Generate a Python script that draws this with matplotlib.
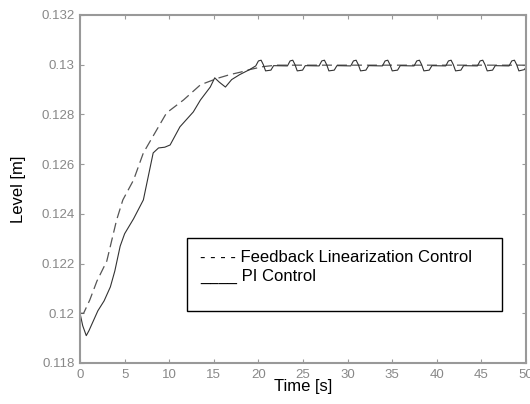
import matplotlib
matplotlib.use("Agg")
import matplotlib.pyplot as plt
from matplotlib.patches import Rectangle

# Feedback linearization response (dashed)
fl_t = [0, 0.4, 1.1, 1.9, 3.0, 4.1, 4.8, 6.0, 7.1, 8.6, 9.7, 11.6, 13.5,
        15.4, 16.8, 18.0, 19.0, 20.5, 22.0, 50.0]
fl_lvl = [0.1200, 0.1200, 0.12054, 0.1213, 0.1221, 0.12375, 0.12456, 0.12536,
          0.12645, 0.12738, 0.12806, 0.12858, 0.12919, 0.12945, 0.12960,
          0.12970, 0.12980, 0.12992, 0.12998, 0.12998]

# PI response: rise part
pi_rise_t = [0, 0.3, 0.7, 1.0, 1.5, 2.0, 2.7, 3.4, 3.9, 4.5, 5.0, 6.0, 7.1,
             8.2, 8.8, 9.5, 10.1, 11.2, 12.7, 13.5, 14.6, 15.1, 15.6, 16.3,
             17.0, 17.9, 19.0]
pi_rise_lvl = [0.1200, 0.1195, 0.1191, 0.1193, 0.1197, 0.1201, 0.1205,
               0.12106, 0.1217, 0.1227, 0.1232, 0.1238, 0.12456, 0.12645,
               0.12665, 0.12668, 0.12677, 0.1275, 0.1281, 0.12858, 0.1291,
               0.12947, 0.1293, 0.1291, 0.1294, 0.1296, 0.1298]

# PI response: steady-state ripple
pi_ripple_t = [19.7, 20.0, 20.3, 20.55, 20.8, 21.4, 21.7,
               23.25, 23.55, 23.85, 24.1, 24.35, 24.95, 25.25,
               26.8, 27.1, 27.4, 27.65, 27.9, 28.5, 28.8,
               30.35, 30.65, 30.95, 31.2, 31.45, 32.05, 32.35,
               33.9, 34.2, 34.5, 34.75, 35.0, 35.6, 35.9,
               37.45, 37.75, 38.05, 38.3, 38.55, 39.15, 39.45,
               41.0, 41.3, 41.6, 41.85, 42.1, 42.7, 43.0,
               44.55, 44.85, 45.15, 45.4, 45.65, 46.25, 46.55,
               48.1, 48.4, 48.7, 48.95, 49.2, 49.8, 50.0]
pi_ripple_lvl = [0.12995, 0.13015, 0.13018, 0.13000, 0.12975, 0.12978, 0.12996,
                 0.12995, 0.13015, 0.13018, 0.13000, 0.12975, 0.12978, 0.12996,
                 0.12995, 0.13015, 0.13018, 0.13000, 0.12975, 0.12978, 0.12996,
                 0.12995, 0.13015, 0.13018, 0.13000, 0.12975, 0.12978, 0.12996,
                 0.12995, 0.13015, 0.13018, 0.13000, 0.12975, 0.12978, 0.12996,
                 0.12995, 0.13015, 0.13018, 0.13000, 0.12975, 0.12978, 0.12996,
                 0.12995, 0.13015, 0.13018, 0.13000, 0.12975, 0.12978, 0.12996,
                 0.12995, 0.13015, 0.13018, 0.13000, 0.12975, 0.12978, 0.12996,
                 0.12995, 0.13015, 0.13018, 0.13000, 0.12975, 0.12980, 0.12990]

x_ticks = [0, 5, 10, 15, 20, 25, 30, 35, 40, 45, 50]
y_ticks = [0.118, 0.12, 0.122, 0.124, 0.126, 0.128, 0.13, 0.132]
y_tick_labels = ["0.118", "0.12", "0.122", "0.124", "0.126", "0.128", "0.13", "0.132"]

plt.rcParams["font.family"] = ["Liberation Sans", "DejaVu Sans"]

fig = plt.figure(figsize=(5.30, 4.04), dpi=100)
ax = fig.add_axes([0.151, 0.1015, 0.8415, 0.8615])

ax.plot(fl_t, fl_lvl, color="#555555", lw=0.9, ls=(0, (8, 4)))
ax.plot(pi_rise_t + pi_ripple_t, pi_rise_lvl + pi_ripple_lvl,
        color="#333333", lw=0.8)

ax.set_xlim(0, 50)
ax.set_ylim(0.118, 0.132)
ax.set_xticks(x_ticks)
ax.set_yticks(y_ticks)
ax.set_yticklabels(y_tick_labels)
ax.tick_params(direction="in", length=3, width=0.8, colors="#999999",
               labelcolor="#888888", labelsize=9.5, top=True, right=True, pad=4)
for s in ax.spines.values():
    s.set_color("#999999")
    s.set_linewidth(1.5)

ax.set_xlabel("Time [s]", fontsize=12, labelpad=-1)
ax.set_ylabel("Level [m]", fontsize=12, labelpad=11)

# legend drawn as a text box, as in the original
box = Rectangle((187 / 530, 1 - 311 / 404), 315 / 530, 73 / 404,
                transform=fig.transFigure, fill=False, ec="black", lw=1.0)
fig.patches.append(box)
fig.text(200 / 530, 1 - 257 / 404, "- - - - Feedback Linearization Control",
         fontsize=12, va="center", ha="left")
fig.text(200 / 530, 1 - 276 / 404, "____ PI Control",
         fontsize=12, va="center", ha="left")

fig.savefig("out.png", dpi=100)
